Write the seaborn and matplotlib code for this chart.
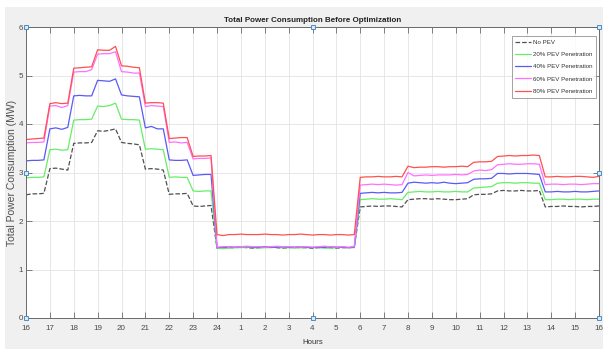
import numpy as np
import pandas as pd
import matplotlib
matplotlib.use("Agg")
import matplotlib.pyplot as plt
from matplotlib.patches import Rectangle
import seaborn as sns

# Time axis: quarter-hour samples over one day, starting at 16:00
hours = [i * 0.25 for i in range(97)]
hour_ticks = list(range(25))
hour_labels = ["16", "17", "18", "19", "20", "21", "22", "23", "24",
               "1", "2", "3", "4", "5", "6", "7", "8", "9", "10",
               "11", "12", "13", "14", "15", "16"]

# Total load (MW) per quarter hour
no_pev = [
    2.54, 2.56, 2.56, 2.57,  3.08, 3.09, 3.07, 3.05,
    3.60, 3.61, 3.61, 3.62,  3.86, 3.85, 3.87, 3.90,
    3.62, 3.60, 3.59, 3.57,  3.07, 3.08, 3.07, 3.05,
    2.55, 2.56, 2.56, 2.57,  2.31, 2.30, 2.31, 2.32,
    1.44, 1.46, 1.45, 1.45, 1.46, 1.45, 1.44, 1.45, 1.46, 1.46, 1.45, 1.44,
    1.45, 1.46, 1.45, 1.45, 1.44, 1.45, 1.46, 1.45, 1.44, 1.45, 1.45, 1.46,
    2.29, 2.30, 2.31, 2.30, 2.31, 2.31, 2.30, 2.29,
    2.44, 2.45, 2.46, 2.46, 2.45, 2.46, 2.45, 2.44, 2.44, 2.45, 2.46,
    2.54, 2.55, 2.55, 2.56,
    2.62, 2.63, 2.62, 2.62, 2.63, 2.62, 2.62, 2.63,
    2.29, 2.30, 2.30, 2.31, 2.30, 2.30, 2.29, 2.30, 2.30, 2.31,
]
pev_20 = [
    2.89, 2.90, 2.90, 2.91,  3.47, 3.48, 3.46, 3.47,
    4.08, 4.09, 4.09, 4.10,  4.37, 4.36, 4.38, 4.43,
    4.10, 4.09, 4.09, 4.08,  3.48, 3.49, 3.48, 3.47,
    2.90, 2.91, 2.90, 2.90,  2.62, 2.61, 2.62, 2.62,
    1.44, 1.43, 1.44, 1.45, 1.45, 1.46, 1.45, 1.44, 1.45, 1.45, 1.46, 1.45,
    1.45, 1.44, 1.45, 1.45, 1.46, 1.45, 1.44, 1.44, 1.45, 1.46, 1.45, 1.45,
    2.44, 2.45, 2.46, 2.45, 2.45, 2.46, 2.45, 2.44,
    2.59, 2.60, 2.61, 2.60, 2.60, 2.61, 2.60, 2.60, 2.61, 2.60, 2.60,
    2.68, 2.69, 2.70, 2.71,
    2.78, 2.79, 2.79, 2.78, 2.79, 2.79, 2.78, 2.78,
    2.44, 2.44, 2.45, 2.45, 2.44, 2.45, 2.45, 2.44, 2.45, 2.45,
]
pev_40 = [
    3.24, 3.25, 3.25, 3.26,  3.90, 3.92, 3.89, 3.93,
    4.58, 4.59, 4.58, 4.58,  4.90, 4.89, 4.88, 4.93,
    4.60, 4.58, 4.57, 4.56,  3.92, 3.95, 3.90, 3.90,
    3.26, 3.25, 3.25, 3.26,  2.94, 2.95, 2.96, 2.96,
    1.45, 1.46, 1.47, 1.46, 1.47, 1.47, 1.46, 1.46, 1.47, 1.46, 1.46, 1.47,
    1.46, 1.46, 1.47, 1.46, 1.45, 1.46, 1.46, 1.47, 1.46, 1.46, 1.45, 1.46,
    2.57, 2.58, 2.59, 2.58, 2.59, 2.58, 2.58, 2.59,
    2.78, 2.80, 2.79, 2.78, 2.79, 2.78, 2.80, 2.78, 2.77, 2.78, 2.79,
    2.86, 2.87, 2.87, 2.88,
    2.98, 2.98, 2.97, 2.98, 2.98, 2.98, 2.97, 2.96,
    2.60, 2.60, 2.61, 2.60, 2.60, 2.61, 2.60, 2.60, 2.61, 2.62,
]
pev_60 = [
    3.61, 3.62, 3.62, 3.63,  4.37, 4.38, 4.34, 4.38,
    5.07, 5.08, 5.08, 5.12,  5.44, 5.45, 5.45, 5.49,
    5.08, 5.07, 5.05, 5.05,  4.36, 4.38, 4.37, 4.36,
    3.62, 3.63, 3.61, 3.62,  3.28, 3.29, 3.29, 3.30,
    1.46, 1.47, 1.47, 1.46, 1.47, 1.48, 1.47, 1.47, 1.46, 1.47, 1.48, 1.47,
    1.47, 1.46, 1.47, 1.47, 1.46, 1.47, 1.48, 1.47, 1.46, 1.47, 1.46, 1.47,
    2.74, 2.75, 2.76, 2.75, 2.76, 2.75, 2.74, 2.75,
    3.00, 2.93, 2.94, 2.95, 2.94, 2.95, 2.95, 2.95, 2.96, 2.95, 2.96,
    3.03, 3.05, 3.04, 3.06,
    3.16, 3.17, 3.18, 3.17, 3.17, 3.18, 3.18, 3.17,
    2.75, 2.76, 2.76, 2.75, 2.76, 2.76, 2.75, 2.76, 2.77, 2.77,
]
pev_80 = [
    3.68, 3.69, 3.70, 3.71,  4.42, 4.44, 4.42, 4.43,
    5.15, 5.16, 5.17, 5.18,  5.53, 5.52, 5.52, 5.60,
    5.20, 5.19, 5.17, 5.16,  4.43, 4.44, 4.44, 4.43,
    3.70, 3.71, 3.72, 3.72,  3.33, 3.34, 3.34, 3.35,
    1.72, 1.70, 1.72, 1.72, 1.73, 1.72, 1.72, 1.72, 1.73, 1.72, 1.72, 1.71,
    1.72, 1.72, 1.73, 1.72, 1.71, 1.72, 1.72, 1.71, 1.72, 1.72, 1.71, 1.72,
    2.90, 2.91, 2.91, 2.92, 2.91, 2.91, 2.92, 2.91,
    3.13, 3.10, 3.11, 3.11, 3.12, 3.12, 3.11, 3.12, 3.12, 3.13, 3.12,
    3.21, 3.22, 3.22, 3.23,
    3.33, 3.34, 3.35, 3.34, 3.35, 3.35, 3.36, 3.35,
    2.91, 2.91, 2.92, 2.91, 2.91, 2.92, 2.92, 2.91, 2.90, 2.92,
]

series_names = ["No PEV", "20% PEV Penetration", "40% PEV Penetration",
                "60% PEV Penetration", "80% PEV Penetration"]
series_values = [no_pev, pev_20, pev_40, pev_60, pev_80]
series_colors = ["#505050", "#66ee66", "#5a5af5", "#ff70ff", "#ff5050"]
series_dashes = ["--", "-", "-", "-", "-"]

sns.set_theme(style="whitegrid")
plt.rcParams["font.family"] = ["Liberation Sans", "DejaVu Sans"]

W, H = 603, 349
fig = plt.figure(figsize=(W / 100, H / 100), dpi=100, facecolor="white")
fig.patches.append(Rectangle((5 / W, 0), 1 - 5 / W, 1 - 7 / H,
                             transform=fig.transFigure, facecolor="#f0f0f0",
                             edgecolor="none", zorder=-10))

ax = fig.add_axes([26 / W, 1 - 318 / H, 573 / W, 291 / H])
ax.set_facecolor("white")

for name, vals, color, ls in zip(series_names, series_values, series_colors, series_dashes):
    df = pd.DataFrame({"Hours": hours, "Load": vals})
    sns.lineplot(data=df, x="Hours", y="Load", ax=ax, color=color,
                 linestyle=ls, linewidth=0.9, label=name)

ax.set_xlim(0, 24)
ax.set_ylim(0, 6)
ax.set_xticks(hour_ticks)
ax.set_xticklabels(hour_labels)
ax.set_yticks(range(7))
ax.grid(True, color="#e3e3e3", linewidth=0.6)
for sp in ax.spines.values():
    sp.set_color("#6a6a6a")
    sp.set_linewidth(0.7)
ax.tick_params(axis="both", direction="in", length=4, width=0.6, color="#6a6a6a",
               labelsize=5.8, labelcolor="#4a4a4a", top=True, right=True,
               bottom=True, left=True)
ax.tick_params(axis="x", pad=5)
ax.tick_params(axis="y", pad=2.2)

ax.set_title("Total Power Consumption Before Optimization", fontsize=5.8,
             fontweight="bold", color="#222222", pad=3.5)
ax.set_xlabel("Hours", fontsize=5.6, color="#333333", labelpad=5)
ax.set_ylabel("Total Power Consumption (MW)", fontsize=7.5, color="#505050")
ax.yaxis.set_label_coords(-9 / 573, 0.5)

# selection handles on the axes frame
hx = [0, 0.5, 1, 0, 1, 0, 0.5, 1]
hy = [1, 1, 1, 0.5, 0.5, 0, 0, 0]
ax.plot(hx, hy, linestyle="none", marker="s", markersize=3.2,
        markerfacecolor="#dbe9f6", markeredgecolor="#4a8cc8",
        markeredgewidth=0.7, transform=ax.transAxes, clip_on=False, zorder=10)

leg = ax.legend(loc="upper right", bbox_to_anchor=(0.995, 0.97), borderaxespad=0,
                fontsize=4.4, frameon=True, fancybox=False, handlelength=2.6,
                handletextpad=0.3, labelspacing=1.15, borderpad=0.6)
leg.get_frame().set_edgecolor("#8a8a8a")
leg.get_frame().set_linewidth(0.7)
for t in leg.get_texts():
    t.set_color("#333333")

fig.savefig("out.png", dpi=100, facecolor="white")
